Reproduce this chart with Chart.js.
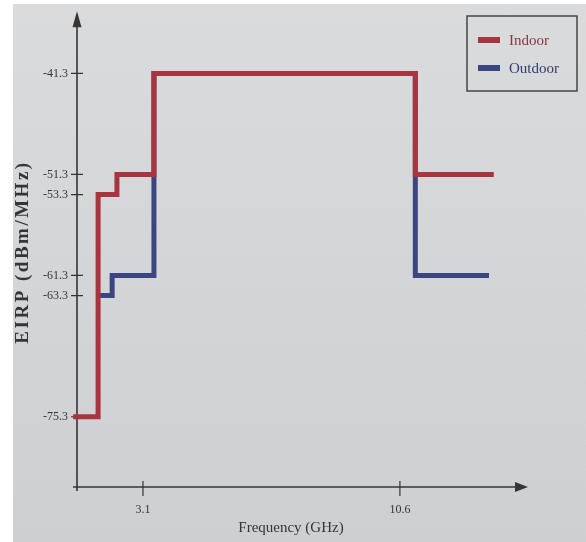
<!DOCTYPE html>
<html>
<head>
<meta charset="utf-8">
<script src="https://cdn.jsdelivr.net/npm/chart.js@4.4.1/dist/chart.umd.min.js"></script>
<style>
  html, body { margin: 0; padding: 0; background: #fff; }
  #paper {
    position: absolute; left: 13px; top: 4px; width: 573px; height: 538px;
    background: linear-gradient(to bottom, #dadbdd, #cdcfd2);
  }
  #chart { position: absolute; left: 0; top: 0; }
</style>
</head>
<body>
<div id="paper"></div>
<canvas id="chart" width="586" height="542"></canvas>
<script>
// Step edges (GHz) and the mask level reached at each edge (dBm/MHz)
const indoorFreq = [1.06, 1.79, 2.34, 3.42, 11.05, 13.34];
const indoorEirp = [-75.3, -53.3, -51.3, -41.3, -51.3, -51.3];
const outdoorFreq = [1.83, 2.2, 3.42, 11.05, 13.2];
const outdoorEirp = [-63.3, -61.3, -41.3, -61.3, -61.3];

const xTicks = [3.1, 10.6];
const yTicks = [-41.3, -51.3, -53.3, -61.3, -63.3, -75.3];

const seriesLabels = ['Indoor', 'Outdoor'];
const lineColors = ['#a8343f', '#3b4580'];
const textColors = ['#8c3442', '#353b6c'];

const toPoints = (xs, ys) => xs.map((x, i) => ({ x, y: ys[i] }));

const ink = '#353535';
const serif = '"Liberation Serif", "DejaVu Serif", serif';

// axis lines with arrow heads and ticks that cross the axis
const axesPlugin = {
  id: 'axes',
  beforeDatasetsDraw(chart) {
    const { ctx, chartArea: a, scales: { x, y } } = chart;
    ctx.save();
    ctx.strokeStyle = ink;
    ctx.fillStyle = ink;
    ctx.lineWidth = 1.6;
    ctx.beginPath();
    ctx.moveTo(a.left, a.bottom + 4);
    ctx.lineTo(a.left, a.top - 2);
    ctx.moveTo(a.left - 4, a.bottom);
    ctx.lineTo(a.right - 8, a.bottom);
    ctx.stroke();
    // arrow heads
    ctx.beginPath();
    ctx.moveTo(a.left, a.top - 5);
    ctx.lineTo(a.left - 4.5, a.top + 11);
    ctx.lineTo(a.left + 4.5, a.top + 11);
    ctx.closePath();
    ctx.fill();
    ctx.beginPath();
    ctx.moveTo(a.right + 1, a.bottom);
    ctx.lineTo(a.right - 12, a.bottom - 5);
    ctx.lineTo(a.right - 12, a.bottom + 5);
    ctx.closePath();
    ctx.fill();
    // tick marks
    ctx.lineWidth = 1.2;
    ctx.beginPath();
    y.ticks.forEach(t => {
      const py = y.getPixelForValue(t.value);
      ctx.moveTo(a.left - 6, py);
      ctx.lineTo(a.left + 6, py);
    });
    x.ticks.forEach(t => {
      const px = x.getPixelForValue(t.value);
      ctx.moveTo(px, a.bottom - 6);
      ctx.lineTo(px, a.bottom + 9);
    });
    ctx.stroke();
    ctx.restore();
  },
  afterDraw(chart) {
    const { ctx } = chart;
    ctx.save();
    // axis titles
    ctx.fillStyle = ink;
    ctx.textAlign = 'center';
    ctx.textBaseline = 'middle';
    ctx.font = '15px ' + serif;
    ctx.fillText('Frequency (GHz)', 291, 528);
    ctx.translate(23, 252);
    ctx.rotate(-Math.PI / 2);
    ctx.font = 'bold 19px ' + serif;
    if ('letterSpacing' in ctx) ctx.letterSpacing = '2.5px';
    ctx.fillText('EIRP (dBm/MHz)', 0, 0);
    ctx.restore();

    // boxed legend
    ctx.save();
    ctx.strokeStyle = '#454545';
    ctx.lineWidth = 1.5;
    ctx.strokeRect(467, 16, 110, 75);
    ctx.font = '15px ' + serif;
    ctx.textBaseline = 'middle';
    chart.data.datasets.forEach((ds, i) => {
      const cy = 40 + i * 28;
      ctx.fillStyle = ds.borderColor;
      ctx.fillRect(478, cy - 3, 22, 6);
      ctx.fillStyle = textColors[i];
      ctx.fillText(ds.label, 509, cy + 1);
    });
    ctx.restore();
  }
};

// 'before': run flat at the previous level, then jump at the next edge
const lineStyle = {
  stepped: 'before',
  borderWidth: 5,
  pointRadius: 0,
  fill: false,
  clip: false,
  borderCapStyle: 'butt',
  borderJoinStyle: 'miter',
};

new Chart(document.getElementById('chart'), {
  type: 'line',
  data: {
    datasets: [
      {
        label: seriesLabels[0],
        data: toPoints(indoorFreq, indoorEirp),
        borderColor: lineColors[0],
        ...lineStyle,
      },
      {
        label: seriesLabels[1],
        data: toPoints(outdoorFreq, outdoorEirp),
        borderColor: lineColors[1],
        ...lineStyle,
      },
    ],
  },
  options: {
    responsive: false,
    animation: false,
    layout: {
      padding: { top: 10, right: 59, left: 0, bottom: 0 },
    },
    plugins: {
      legend: { display: false },
      tooltip: { enabled: false },
    },
    scales: {
      x: {
        type: 'linear',
        min: 1.174,
        max: 14.31,
        afterBuildTicks: (scale) => {
          scale.ticks = xTicks.map(value => ({ value }));
        },
        afterFit: (scale) => {
          scale.height = 55;
        },
        ticks: {
          autoSkip: false,
          maxRotation: 0,
          padding: 16,
          color: ink,
          font: { family: serif, size: 12 },
          callback: (v) => String(v),
        },
        grid: { display: false, drawTicks: false },
        border: { display: false },
      },
      y: {
        min: -82.26,
        max: -35.63,
        afterBuildTicks: (scale) => {
          scale.ticks = yTicks.map(value => ({ value }));
        },
        afterFit: (scale) => {
          scale.width = 77;
        },
        ticks: {
          autoSkip: false,
          padding: 9,
          color: ink,
          font: { family: serif, size: 12 },
          callback: (v) => v.toFixed(1),
        },
        grid: { display: false, drawTicks: false },
        border: { display: false },
      },
    },
  },
  plugins: [axesPlugin],
});
</script>
</body>
</html>
